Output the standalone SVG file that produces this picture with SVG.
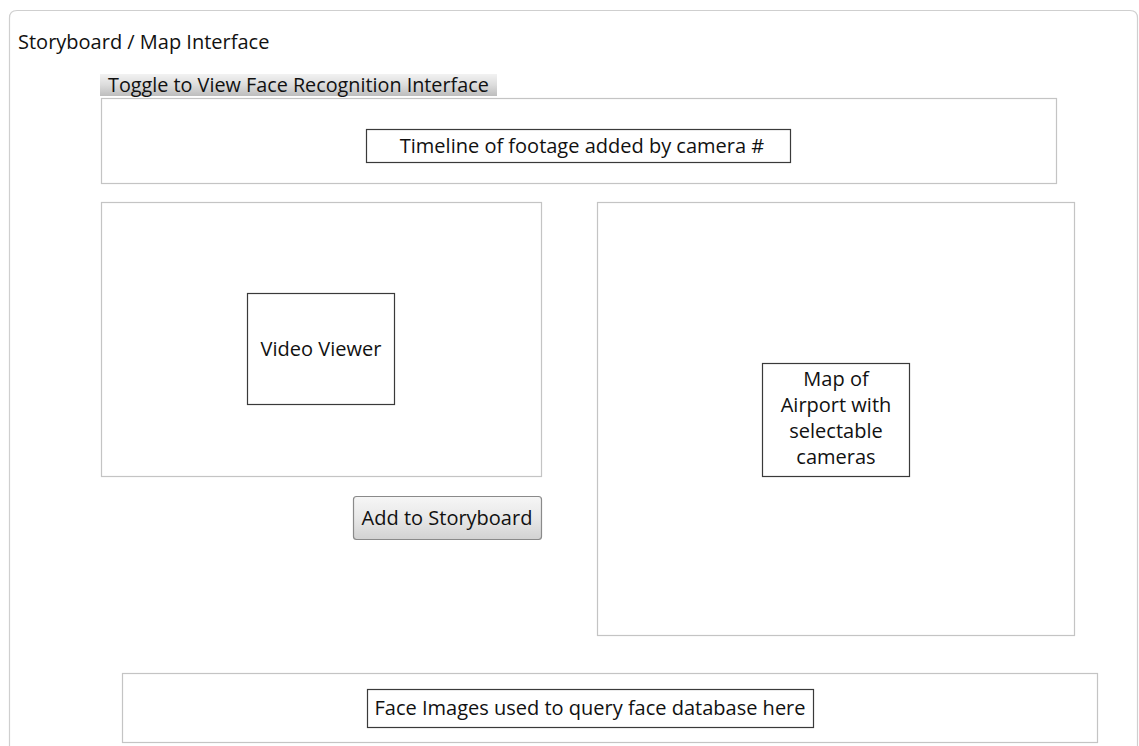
<svg xmlns="http://www.w3.org/2000/svg" width="1139" height="746" viewBox="0 0 1139 746">
  <style>
    text { font-family: "Open Sans", "Noto Sans", "Liberation Sans", sans-serif; fill: #111111; }
    .panel { fill: #ffffff; stroke: #c4c4c4; stroke-width: 1.2; }
    .label { fill: #ffffff; stroke: #3a3a3a; stroke-width: 1.2; }
    .t { font-size: 20px; text-anchor: middle; }
  </style>
  <defs>
    <linearGradient id="toggleGrad" x1="0" y1="0" x2="0" y2="1">
      <stop offset="0" stop-color="#f2f2f2"/>
      <stop offset="0.5" stop-color="#dcdcdc"/>
      <stop offset="1" stop-color="#bdbdbd"/>
    </linearGradient>
    <linearGradient id="btnGrad" x1="0" y1="0" x2="0" y2="1">
      <stop offset="0" stop-color="#f6f6f6"/>
      <stop offset="0.5" stop-color="#e8e8e8"/>
      <stop offset="1" stop-color="#d2d2d2"/>
    </linearGradient>
  </defs>
  <rect width="1139" height="746" fill="#ffffff"/>

  <!-- outer window frame, open at the bottom -->
  <g id="frame">
    <path d="M9.5 760 V18 Q9.5 10.5 17 10.5 H1130 Q1137.5 10.5 1137.5 18 V760" fill="#ffffff" stroke="#cfcfcf" stroke-width="1.2"/>
    <text x="18" y="49" font-size="20">Storyboard / Map Interface</text>
  </g>

  <g id="toggle">
    <rect x="100" y="74" width="397" height="22" fill="url(#toggleGrad)"/>
    <text x="108" y="92" font-size="19.8">Toggle to View Face Recognition Interface</text>
  </g>

  <g id="timeline">
    <rect class="panel" x="101.5" y="98.5" width="955" height="85"/>
    <rect class="label" x="366.5" y="129.5" width="424" height="33"/>
    <text class="t" x="582" y="153">Timeline of footage added by camera #</text>
  </g>

  <g id="video-panel">
    <rect class="panel" x="101.5" y="202.5" width="440" height="274"/>
    <rect class="label" x="247.5" y="293.5" width="147" height="111"/>
    <text class="t" x="321" y="356">Video Viewer</text>
  </g>

  <g id="add-button">
    <rect x="353.5" y="496.5" width="188" height="43" rx="3" fill="url(#btnGrad)" stroke="#8a8a8a" stroke-width="1.2"/>
    <text class="t" x="447" y="525">Add to Storyboard</text>
  </g>

  <g id="map-panel">
    <rect class="panel" x="597.5" y="202.5" width="477" height="433"/>
    <rect class="label" x="762.5" y="363.5" width="147" height="113"/>
    <text class="t" x="836" y="386">Map of</text>
    <text class="t" x="836" y="412">Airport with</text>
    <text class="t" x="836" y="438">selectable</text>
    <text class="t" x="836" y="464">cameras</text>
  </g>

  <g id="face-panel">
    <rect class="panel" x="122.5" y="673.5" width="975" height="69"/>
    <rect class="label" x="367.5" y="689.5" width="446" height="38"/>
    <text class="t" x="590" y="715">Face Images used to query face database here</text>
  </g>
</svg>
